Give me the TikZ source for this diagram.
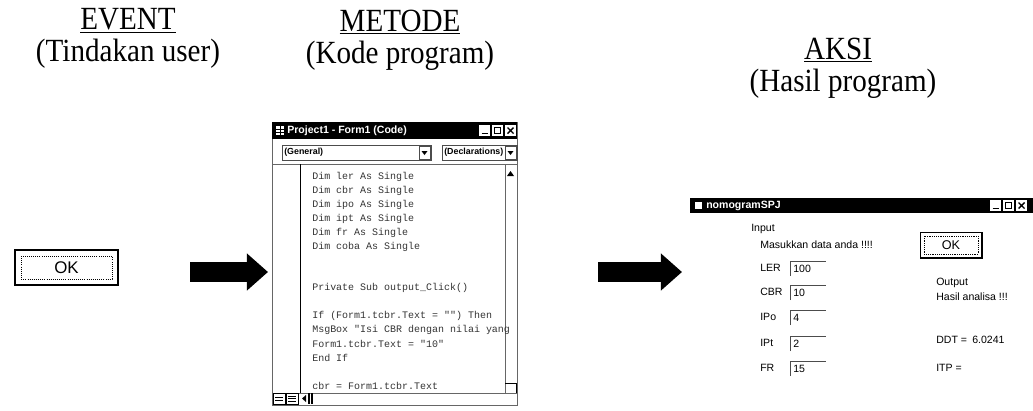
\documentclass[tikz,border=0pt]{standalone}
\usepackage{fontspec}
\setmainfont{Liberation Serif}
\newfontfamily\judulfont[FakeStretch=0.9]{Liberation Serif}
\newfontfamily\winfont{Liberation Sans}
\newfontfamily\codefont{Liberation Mono}
\usetikzlibrary{arrows.meta}

\tikzset{
  judul/.style={font=\judulfont\fontsize{23}{26}\selectfont, inner sep=0},
  wintext/.style={font=\winfont\fontsize{7.5}{9}\selectfont, anchor=west, inner sep=0},
  titletext/.style={font=\winfont\bfseries\fontsize{7.5}{9}\selectfont, text=white, anchor=west, inner sep=0},
  combotext/.style={font=\winfont\bfseries\fontsize{6.3}{8}\selectfont, anchor=west, inner sep=0},
  kode/.style={font=\codefont\fontsize{7.1}{8}\selectfont, anchor=west, inner sep=0, text=black!80},
  panah/.style={line width=0.5cm, -{Triangle[length=0.53cm,width=0.9cm]}},
  okteks/.style={font=\winfont\fontsize{#1}{#1}\selectfont, inner sep=0}
}

\begin{document}
\begin{tikzpicture}[x=0.025cm,y=-0.025cm]
    \useasboundingbox (0,0) rectangle (1033,410);

    % judul kolom
    \node[judul] (event) at (128,21) {\underline{EVENT}};
    \node[judul] (eventsub) at (128,54) {(Tindakan user)};
    \node[judul] (metode) at (400,22) {\underline{METODE}};
    \node[judul] (metodesub) at (400,56) {(Kode program)};
    \node[judul] (aksi) at (838,50) {\underline{AKSI}};
    \node[judul] (aksisub) at (843,84) {(Hasil program)};

    % tombol OK (event)
    \draw[line width=1.5pt] (15,250) rectangle (118,285);
    \draw[densely dotted, line width=0.5pt] (21,256) rectangle (112,279);
    \node[okteks=12] (okevent) at (66.5,267.5) {OK};

    % panah
    \coordinate (panahA0) at (190,272);
    \coordinate (panahA1) at (268,272);
    \draw[panah] (panahA0) -- (panahA1);
    \coordinate (panahB0) at (598,272);
    \coordinate (panahB1) at (682,272);
    \draw[panah] (panahB0) -- (panahB1);

    % jendela kode
    \draw[black!60] (272,122) rectangle (517,405);
    \fill[black] (272,122) rectangle (517,139);
    \fill[white] (276,126) rectangle (284,135);
    \draw[black, line width=0.4pt] (276,129) -- (284,129) (276,132) -- (284,132) (280,126) -- (280,135);
    \node[titletext] (judulkode) at (287,130.5) {Project1 - Form1 (Code)};
    \foreach \bx in {479,492,505} \fill[white] (\bx,125) rectangle ++(11,11);
    \draw[line width=1pt] (481.5,133.5) -- (487.5,133.5);
    \draw[line width=0.6pt] (494.5,127.5) rectangle (500.5,133.5);
    \draw[line width=1pt] (507.5,127.5) -- (513.5,133.5) (507.5,133.5) -- (513.5,127.5);

    \draw[black!70] (282,145) rectangle (431,160);
    \node[combotext] (cmbgeneral) at (284,152.5) {(General)};
    \draw[black!70] (419,146.5) rectangle (430,159);
    \fill (421.5,151) -- (427.5,151) -- (424.5,155) -- cycle;
    \draw[black!70] (442,145) rectangle (517,160);
    \node[combotext] (cmbdecl) at (444,152.5) {(Declarations)};
    \draw[black!70] (505,146.5) rectangle (516,159);
    \fill (507.5,151) -- (513.5,151) -- (510.5,155) -- cycle;

    \draw[black!60] (272,164) -- (517,164);
    \draw (300,164) -- (300,393);
    \draw[black!60] (505,164) -- (505,393);
    \fill (507,176) -- (514,176) -- (510.5,171) -- cycle;
    \draw (505,383) -- (516,383) -- (516,393);
    \draw[black!60] (272,393) -- (517,393);
    \draw (273,393) rectangle (285,404);
    \draw (275,397) -- (283,397) (275,400.5) -- (283,400.5);
    \draw (286,393) rectangle (298,404);
    \draw (288,396) -- (296,396) (288,398.5) -- (296,398.5) (288,401) -- (296,401);
    \fill (302,398.5) -- (306,395) -- (306,402) -- cycle;
    \draw[line width=1pt] (309,393) -- (309,404) (312,393) -- (312,404);

    \foreach \n/\baris in {1/Dim ler As Single, 2/Dim cbr As Single,
        3/Dim ipo As Single, 4/Dim ipt As Single, 5/Dim fr As Single,
        6/Dim coba As Single, 9/Private Sub output\_Click(),
        11/If (Form1.tcbr.Text = "") Then,
        12/MsgBox "Isi CBR dengan nilai yang,
        13/Form1.tcbr.Text = "10", 14/End If,
        16/cbr = Form1.tcbr.Text}
        \node[kode] (kode\n) at (312,{177+(\n-1)*13.9}) {\baris};

    % jendela hasil
    \fill[black] (690,198) rectangle (1033,213);
    \fill[white] (695,202) rectangle (702,209);
    \node[titletext] (judulaksi) at (706,205.5) {nomogramSPJ};
    \foreach \bx in {990,1003,1016} \fill[white] (\bx,200) rectangle ++(11,11);
    \draw[line width=1pt] (992.5,208.5) -- (998.5,208.5);
    \draw[line width=0.6pt] (1005.5,202.5) rectangle (1011.5,208.5);
    \draw[line width=1pt] (1018.5,202.5) -- (1024.5,208.5) (1018.5,208.5) -- (1024.5,202.5);

    \node[wintext] (lblinput) at (751,229) {Input};
    \node[wintext] (lblmasuk) at (760,245) {Masukkan data anda !!!!};
    \foreach \lbl/\isi/\yy in {LER/100/268, CBR/10/292, IPo/4/317, IPt/2/343, FR/15/368} {
        \node[wintext] (lbl\lbl) at (760,\yy) {\lbl};
        \draw[black!70] (790,\yy+8) |- (826,\yy-7);
        \node[wintext] (isi\lbl) at (793,\yy+1) {\isi};
    }

    \draw[line width=0.6pt] (920,232) rectangle (982,258);
    \draw[line width=1.2pt] (982,232) -- (982,258) -- (920,258);
    \draw[densely dotted, line width=0.3pt] (924,236) rectangle (978,254);
    \node[okteks=9] (okaksi) at (951,245) {OK};

    \node[wintext] (lbloutput) at (936,283) {Output};
    \node[wintext] (lblhasil) at (936,297) {Hasil analisa !!!};
    \node[wintext] (lblddt) at (936,340) {DDT =};
    \node[wintext] (nilaiddt) at (972,340) {6.0241};
    \node[wintext] (lblitp) at (936,368) {ITP =};
\end{tikzpicture}
\end{document}
